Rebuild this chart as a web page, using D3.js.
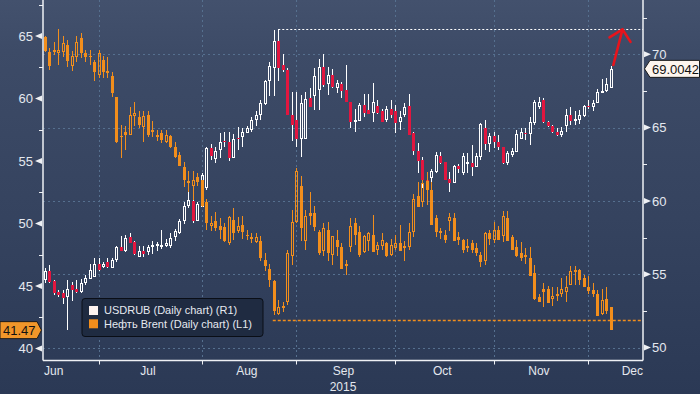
<!DOCTYPE html>
<html>
<head>
<meta charset="utf-8">
<title>USDRUB vs Brent</title>
<style>
  body { margin: 0; background: #2b3955; }
  svg { display: block; font-family: "Liberation Sans", Arial, sans-serif; }
  .tick-label { fill: #e4e8ef; font-size: 13px; }
  .grid line { stroke: #56708f; stroke-width: 1; stroke-dasharray: 2,3; }
  .axis-line { stroke: #eef0f4; stroke-width: 1.5; }
  .minor { stroke: #eef0f4; stroke-width: 1; }
</style>
</head>
<body>
<svg width="700" height="394"></svg>
<script src="https://cdn.jsdelivr.net/npm/d3@7"></script>
<script>
// daily candles, one per weekday starting Mon 15 Jun 2015; rows are [open, high, low, close]
var firstDay = new Date(2015, 5, 15);

var usdrub = [
  [54.6,55.4,54.4,55.2],[55.2,55.6,54.4,54.5],[54.55,54.6,53.6,53.7],[53.8,53.9,53.45,53.6],[53.7,53.9,53.0,53.4],
  [53.45,54.6,51.2,54.0],[54.25,54.5,53.2,53.95],[54.0,54.6,53.7,53.8],[53.8,54.65,53.7,54.4],[54.4,54.95,54.25,54.75],
  [54.7,55.7,54.65,55.3],[54.8,56.1,54.8,55.7],[55.7,56.1,55.2,55.3],[55.5,55.85,55.4,55.7],[55.85,56.1,55.4,55.5],
  [55.45,56.1,55.4,55.95],[55.95,56.95,55.85,56.85],[56.85,57.6,56.65,56.6],[56.6,57.65,56.5,57.5],[57.55,57.8,57.1,57.1],
  [57.2,57.3,56.3,56.35],[56.2,56.95,56.2,56.6],[56.6,56.9,56.2,56.4],[56.5,57.0,56.3,56.85],[56.95,57.3,56.4,57.0],
  [56.95,57.2,56.6,57.05],[56.85,58.0,56.7,57.0],[56.9,57.4,56.85,57.1],[56.95,57.8,56.8,57.5],[57.55,58.1,57.3,57.95],
  [57.8,58.8,57.75,58.65],[58.65,59.95,58.45,59.65],[59.65,60.6,59.5,60.05],[60.0,60.3,58.5,58.6],[58.6,59.9,58.6,59.8],
  [59.6,61.9,59.6,61.75],[60.85,63.7,60.75,63.6],[63.6,63.9,62.8,63.05],[62.85,63.7,62.6,63.4],[63.5,64.6,62.9,64.05],
  [64.1,64.7,63.7,64.0],[64.0,64.7,62.7,62.9],[62.95,64.55,62.95,64.25],[64.3,65.05,63.5,64.2],[64.35,65.0,63.65,64.7],
  [64.65,65.1,64.6,64.95],[64.85,65.7,64.7,65.5],[65.5,66.15,65.1,65.85],[65.85,66.85,65.5,66.65],[66.6,68.25,66.55,68.15],
  [68.15,69.5,67.15,69.2],[69.05,71.65,67.15,70.9],[70.9,71.7,68.2,69.05],[69.25,70.05,68.8,68.9],[68.9,69.05,65.85,65.85],
  [65.85,67.45,64.1,65.2],[65.5,67.45,63.7,64.2],[64.25,67.2,63.0,66.7],[64.25,67.45,64.25,66.95],[67.0,67.7,66.4,66.4],
  [67.15,69.05,66.2,68.5],[67.55,69.7,66.2,69.15],[69.1,70.05,67.8,67.9],[68.0,69.15,67.2,68.6],[68.6,69.0,67.7,67.8],
  [67.7,68.25,67.35,68.05],[67.95,68.1,67.0,67.5],[67.55,69.3,66.75,66.75],[66.75,66.75,64.95,65.4],[65.4,66.25,64.7,65.5],
  [65.45,66.65,65.45,66.55],[66.55,67.3,65.75,66.0],[66.2,67.3,65.95,65.95],[66.0,68.05,65.4,66.75],[66.45,66.85,65.95,66.0],
  [66.1,66.3,65.4,65.4],[65.5,66.45,65.4,66.3],[66.25,66.9,65.65,65.85],[66.15,66.55,64.65,65.3],[65.4,66.1,64.85,65.75],
  [65.85,66.65,65.75,66.4],[66.45,67.3,64.5,64.5],[64.6,64.7,63.1,63.4],[63.4,63.95,61.9,62.75],[62.8,63.0,60.85,61.4],
  [61.4,61.9,60.5,61.0],[61.55,62.2,61.3,62.05],[62.0,63.35,61.9,63.1],[63.05,63.35,62.55,62.6],[62.65,62.65,61.4,61.4],
  [61.5,61.95,60.6,61.25],[61.25,62.45,61.2,62.4],[62.4,62.55,61.9,62.15],[61.9,63.25,61.75,63.05],[62.55,63.3,61.9,62.65],
  [62.6,63.8,61.7,62.3],[62.3,63.25,62.3,63.05],[63.0,65.3,62.8,65.25],[64.95,65.5,63.45,63.9],[63.9,64.65,63.35,64.45],
  [64.45,64.7,63.6,64.05],[64.05,64.5,63.5,63.65],[63.7,63.7,62.55,62.6],[62.6,63.4,62.45,63.25],[63.15,63.6,63.0,63.4],
  [63.35,64.85,63.35,64.55],[64.25,64.95,64.2,64.7],[64.6,64.95,64.15,64.55],[64.55,65.75,63.8,65.4],[65.3,66.9,65.2,66.75],
  [66.4,67.1,66.3,66.75],[66.9,67.0,65.3,65.35],[65.35,65.45,65.05,65.1],[65.1,65.15,64.6,64.7],[64.7,64.95,64.4,64.5],
  [64.5,65.05,64.35,64.75],[65.1,66.3,64.7,65.85],[65.85,66.4,65.2,65.45],[65.5,66.1,65.2,65.6],[65.55,66.2,65.25,65.85],
  [65.8,66.55,65.75,66.5],[66.5,66.9,66.3,66.45],[66.4,66.9,66.1,66.65],[66.65,67.6,66.65,67.45],[67.4,68.3,67.4,67.5],
  [67.5,68.35,67.45,68.0],[67.7,69.2,67.7,69.0042]
];

var brent = [
  [64.9,65.0,63.7,63.8],[63.7,64.0,62.3,62.6],[63.7,64.5,63.5,63.9],[63.6,65.6,62.7,63.9],[63.7,65.0,63.3,64.4],
  [64.3,64.7,62.5,63.0],[62.6,63.8,62.2,63.4],[63.3,65.0,62.9,64.5],[64.8,65.2,63.2,63.6],[63.6,63.9,62.9,63.3],
  [63.4,63.9,62.7,63.3],[62.9,63.1,61.4,62.1],[61.9,63.9,61.6,63.6],[63.1,63.4,61.6,62.1],[62.2,63.3,61.6,62.0],
  [61.8,62.1,60.1,60.4],[60.1,60.1,56.4,56.5],[57.0,57.9,55.2,56.9],[57.3,57.8,55.9,57.1],[57.1,59.3,57.1,58.7],
  [58.6,59.7,57.8,58.8],[58.5,59.0,57.6,57.9],[57.7,59.0,56.5,58.6],[58.7,59.0,56.9,57.1],[57.3,58.2,56.9,57.5],
  [56.9,57.5,56.6,57.1],[57.2,57.5,56.4,56.7],[56.5,57.5,56.4,57.1],[57.0,57.1,56.0,56.1],[56.1,56.5,55.2,55.3],
  [55.5,55.7,54.6,54.6],[54.5,54.9,52.9,53.5],[53.2,54.2,52.5,53.4],[53.0,54.2,51.9,53.5],[53.7,54.0,53.0,53.3],
  [53.5,53.5,51.3,51.4],[51.7,52.0,49.5,50.0],[49.8,50.6,49.4,50.0],[50.2,50.9,49.4,49.6],[49.8,50.4,48.8,49.5],
  [49.7,50.0,48.5,48.6],[48.4,50.6,48.3,50.5],[50.3,51.2,48.7,49.2],[49.4,50.5,49.2,49.8],[49.9,50.6,48.8,49.3],
  [49.1,49.5,48.7,49.0],[48.9,49.2,48.4,48.8],[48.5,49.2,48.4,48.9],[48.6,49.0,47.0,47.2],[47.1,47.6,46.2,46.6],
  [46.4,46.8,44.9,45.5],[45.4,45.5,42.7,43.0],[42.8,43.9,42.7,43.3],[43.4,43.7,42.9,43.2],[43.7,47.9,43.5,47.6],
  [47.4,51.1,46.7,50.1],[50.1,54.4,50.0,54.2],[53.0,53.8,48.6,49.6],[48.6,51.1,47.9,50.6],[50.8,52.5,49.9,50.6],
  [50.8,51.4,49.4,49.7],[49.3,49.5,47.5,47.6],[47.8,50.0,47.4,49.6],[49.5,50.1,47.0,47.6],[47.5,49.0,46.7,49.0],
  [48.7,49.5,47.4,48.1],[48.1,48.4,46.4,46.4],[46.8,47.1,45.9,46.6],[48.1,50.4,47.7,49.8],[50.0,50.4,48.3,49.1],
  [49.3,49.8,47.3,47.5],[47.7,49.1,47.6,49.0],[48.6,49.3,47.8,49.2],[49.1,50.7,47.7,47.7],[47.9,48.5,47.5,48.3],
  [48.2,49.2,47.9,48.7],[48.4,48.5,47.3,47.4],[47.5,48.8,47.4,48.3],[48.0,49.1,47.9,48.4],[48.4,49.9,47.8,47.8],
  [48.0,48.6,47.0,48.2],[48.1,50.0,47.9,49.3],[49.3,52.4,48.9,52.0],[52.2,53.3,51.3,51.3],[51.7,53.5,51.3,53.2],
  [53.4,54.1,51.5,52.7],[52.7,53.3,49.9,49.9],[50.4,50.7,48.9,49.3],[49.4,49.6,48.8,49.2],[49.1,49.5,48.4,48.7],
  [50.2,50.8,49.4,50.5],[50.4,50.8,48.6,48.6],[48.9,49.3,48.3,48.7],[48.7,48.8,47.6,47.9],[48.2,48.8,47.7,48.0],
  [48.4,48.7,47.6,47.9],[48.0,48.4,47.4,47.6],[47.5,47.7,46.5,46.9],[47.0,49.3,46.7,49.2],[49.2,49.5,48.3,48.8],
  [48.7,50.1,48.4,49.5],[49.5,49.8,48.7,48.7],[49.0,51.0,48.5,50.6],[50.4,51.0,48.6,48.6],[48.9,49.1,47.9,47.9],
  [48.1,48.7,47.3,47.4],[47.6,48.5,47.0,47.2],[47.5,48.0,46.8,47.3],[47.2,48.1,45.8,45.8],[46.0,46.7,43.9,44.0],
  [44.1,44.4,43.7,43.7],[44.8,45.2,43.3,44.5],[44.8,45.0,43.6,43.6],[44.0,44.9,43.4,44.2],[44.4,44.9,43.8,44.2],
  [44.4,45.6,44.1,44.8],[44.5,45.8,43.7,44.9],[45.1,46.6,45.1,46.2],[46.1,46.6,45.1,46.3],[46.3,46.4,45.1,45.5],
  [45.6,45.9,44.9,44.9],[44.9,45.8,44.4,44.6],[44.7,45.2,44.1,44.4],[44.4,44.7,42.6,42.6],[42.8,44.8,42.7,43.9],
  [44.0,44.9,42.8,43.0],[43.3,43.3,41.47,41.47]
];

var leftTicks = [40, 45, 50, 55, 60, 65];
var rightTicks = [50, 55, 60, 65, 70];
var monthNames = ["Jun", "Jul", "Aug", "Sep", "Oct", "Nov", "Dec"];
var yearLabel = "2015";
var legendNames = ["USDRUB (Daily chart) (R1)", "Нефть Brent (Daily chart) (L1)"];
var lastLabels = ["69.0042", "41.47"];
// dashed reference levels: USDRUB August high, Brent August low (weekday index from 1 Jun)
var refRub = {day: 62, value: 71.7};
var refBrent = {day: 61, value: 42.25};

(function() {
  var svg = d3.select("svg"),
      W = 700, H = 394,
      pLeft = 43, pRight = 643, pTop = 0, pBottom = 360.5;

  var colUp = "#ffffff", colDown = "#e2163f", colOil = "#f28e1c";

  // background gradient
  var defs = svg.append("defs");
  var grad = defs.append("linearGradient").attr("id", "bg").attr("x1", 0).attr("y1", 0).attr("x2", 0).attr("y2", 1);
  grad.append("stop").attr("offset", "0").attr("stop-color", "#43516d");
  grad.append("stop").attr("offset", "0.13").attr("stop-color", "#3d4b67");
  grad.append("stop").attr("offset", "0.55").attr("stop-color", "#35435f");
  grad.append("stop").attr("offset", "1").attr("stop-color", "#2b3955");
  svg.append("rect").attr("width", W).attr("height", H).attr("fill", "url(#bg)");

  defs.append("clipPath").attr("id", "plot")
    .append("rect").attr("x", pLeft).attr("y", pTop).attr("width", pRight - pLeft).attr("height", pBottom - pTop);

  // weekday axis: index counts weekdays from Mon 1 Jun 2015
  var origin = new Date(2015, 5, 1);
  function weekdayIndex(d) {
    var n = 0, t = new Date(origin);
    while (t < d) {
      var w = t.getDay();
      if (w > 0 && w < 6) n++;
      t.setDate(t.getDate() + 1);
    }
    return n;
  }
  var days = d3.timeDay.range(firstDay, new Date(2016, 0, 1))
    .filter(function(d) { var w = d.getDay(); return w > 0 && w < 6; })
    .slice(0, usdrub.length);
  var dayIdx = days.map(weekdayIndex);

  var x = d3.scaleLinear().domain([9.65, 143.16]).range([pLeft, pRight]);
  var yL = d3.scaleLinear().domain([39.04, 67.88]).range([pBottom, pTop]);
  var yR = d3.scaleLinear().domain([49.12, 73.7]).range([pBottom, pTop]);

  var monthStarts = d3.range(0, 8).map(function(m) { return weekdayIndex(new Date(2015, 5 + m, 1)); });
  var px = function(v) { return Math.round(v) + 0.5; };

  // grid
  var grid = svg.append("g").attr("class", "grid");
  grid.selectAll("line.v").data(monthStarts.slice(1, 7)).enter().append("line")
    .attr("x1", function(d) { return px(x(d)); })
    .attr("x2", function(d) { return px(x(d)); })
    .attr("y1", pTop).attr("y2", pBottom);
  grid.selectAll("line.h").data(rightTicks).enter().append("line")
    .attr("x1", pLeft).attr("x2", pRight)
    .attr("y1", function(d) { return px(yR(d)); })
    .attr("y2", function(d) { return px(yR(d)); });

  // candles
  function drawCandles(g, data, y, upStroke, downFill, wickCol) {
    g.selectAll("g").data(data).enter().append("g").each(function(d, k) {
      var s = d3.select(this);
      var cx = Math.round(x(dayIdx[k]));
      var o = d[0], h = d[1], l = d[2], c = d[3];
      var t = Math.round(y(Math.max(o, c))), b = Math.round(y(Math.min(o, c)));
      var yh = Math.round(y(h)), yl = Math.round(y(l));
      if (c >= o) {
        if (b - t < 2) b = t + 2;
        if (yh < t) s.append("line").attr("x1", cx + 0.5).attr("x2", cx + 0.5).attr("y1", yh).attr("y2", t).attr("stroke", wickCol);
        if (yl > b) s.append("line").attr("x1", cx + 0.5).attr("x2", cx + 0.5).attr("y1", b).attr("y2", yl).attr("stroke", wickCol);
        s.append("rect").attr("x", cx - 0.5).attr("y", t + 0.5).attr("width", 2).attr("height", b - t - 1)
          .attr("fill", "none").attr("stroke", upStroke).attr("stroke-width", 1);
      } else {
        if (b - t < 1) b = t + 1;
        s.append("line").attr("x1", cx + 0.5).attr("x2", cx + 0.5).attr("y1", yh).attr("y2", Math.max(yl, b)).attr("stroke", wickCol);
        s.append("rect").attr("x", cx - 1).attr("y", t).attr("width", 3).attr("height", b - t).attr("fill", downFill);
      }
    });
  }

  var plot = svg.append("g").attr("clip-path", "url(#plot)");
  drawCandles(plot.append("g"), usdrub, yR, colUp, colDown, colUp);
  drawCandles(plot.append("g"), brent, yL, colOil, colOil, colOil);

  // reference dashed lines
  svg.append("line")
    .attr("x1", x(refRub.day)).attr("x2", pRight)
    .attr("y1", px(yR(refRub.value))).attr("y2", px(yR(refRub.value)))
    .attr("stroke", "#ffffff").attr("stroke-width", 1.2).attr("stroke-dasharray", "2,2");
  svg.append("line")
    .attr("x1", x(refBrent.day) - 1).attr("x2", pRight)
    .attr("y1", px(yL(refBrent.value))).attr("y2", px(yL(refBrent.value)))
    .attr("stroke", colOil).attr("stroke-width", 1.5).attr("stroke-dasharray", "3,2");

  // red arrow from the last USDRUB candle up to the August high
  var last = usdrub.length - 1;
  var ax0 = x(dayIdx[last]) + 2.5, ay0 = yR(usdrub[last][1]) - 1;
  var ax1 = x(dayIdx[last] + 2.6), ay1 = yR(refRub.value);
  svg.append("path")
    .attr("d", "M" + ax0 + "," + ay0 + "L" + ax1 + "," + ay1 +
               "M" + (ax1 - 13) + "," + (ay1 + 8) + "L" + ax1 + "," + ay1 + "L" + (ax1 + 8) + "," + (ay1 + 12.5))
    .attr("fill", "none").attr("stroke", "#e8141c").attr("stroke-width", 2.6)
    .attr("stroke-linecap", "round").attr("stroke-linejoin", "round");

  // axes
  svg.append("line").attr("class", "axis-line").attr("x1", pLeft).attr("x2", pLeft).attr("y1", pTop).attr("y2", pBottom);
  svg.append("line").attr("class", "axis-line").attr("x1", pRight).attr("x2", pRight).attr("y1", pTop).attr("y2", pBottom);
  svg.append("line").attr("class", "axis-line").attr("x1", pLeft).attr("x2", pRight).attr("y1", pBottom).attr("y2", pBottom);

  // left axis
  var minorL = d3.range(42.5, 68, 5);
  svg.selectAll("line.ml").data(minorL).enter().append("line").attr("class", "minor")
    .attr("x1", pLeft - 4).attr("x2", pLeft)
    .attr("y1", function(d) { return px(yL(d)); })
    .attr("y2", function(d) { return px(yL(d)); });
  svg.selectAll("path.tl").data(leftTicks).enter().append("path")
    .attr("d", function(d) { var y = yL(d); return "M" + (pLeft - 8) + "," + y + "L" + (pLeft - 1) + "," + (y - 3) + "L" + (pLeft - 1) + "," + (y + 3) + "Z"; })
    .attr("fill", "#eef0f4");
  svg.selectAll("text.tl").data(leftTicks).enter().append("text").attr("class", "tick-label")
    .attr("x", 33).attr("y", function(d) { return yL(d); }).attr("dy", "0.36em")
    .attr("text-anchor", "end").text(function(d) { return d; });

  // right axis
  var minorR = d3.range(52.5, 74, 5);
  svg.selectAll("line.mr").data(minorR).enter().append("line").attr("class", "minor")
    .attr("x1", pRight).attr("x2", pRight + 4)
    .attr("y1", function(d) { return px(yR(d)); })
    .attr("y2", function(d) { return px(yR(d)); });
  svg.selectAll("path.tr").data(rightTicks).enter().append("path")
    .attr("d", function(d) { var y = yR(d); return "M" + (pRight + 8) + "," + y + "L" + (pRight + 1) + "," + (y - 3) + "L" + (pRight + 1) + "," + (y + 3) + "Z"; })
    .attr("fill", "#eef0f4");
  svg.selectAll("text.tr").data(rightTicks).enter().append("text").attr("class", "tick-label")
    .attr("x", pRight + 9).attr("y", function(d) { return yR(d); }).attr("dy", "0.36em")
    .text(function(d) { return d; });

  // x axis
  svg.selectAll("line.xt").data(monthStarts.slice(1, 7)).enter().append("line").attr("class", "minor")
    .attr("x1", function(d) { return px(x(d)); })
    .attr("x2", function(d) { return px(x(d)); })
    .attr("y1", pBottom).attr("y2", pBottom + 4);
  var mLabels = svg.selectAll("text.m").data(monthNames).enter().append("text").attr("class", "tick-label")
    .style("font-size", "12px").attr("y", 374.5).attr("text-anchor", "middle")
    .text(function(d) { return d; });
  mLabels.each(function(d, k) {
    var cx = x((monthStarts[k] + monthStarts[k + 1]) / 2 - 0.5);
    var w = this.getComputedTextLength();
    cx = Math.max(pLeft + 1 + w / 2, Math.min(pRight - w / 2, cx));
    d3.select(this).attr("x", cx);
  });
  svg.append("text").attr("class", "tick-label").style("font-size", "12px")
    .attr("x", (pLeft + pRight) / 2).attr("y", 391).attr("text-anchor", "middle").text(yearLabel);

  // last value tags
  var yRub = yR(usdrub[last][3]);
  svg.append("path")
    .attr("d", "M" + (pRight + 1.5) + "," + yRub + "L" + (pRight + 7) + "," + (yRub - 8.5) + "H699.5V" + (yRub + 8.5) + "H" + (pRight + 7) + "Z")
    .attr("fill", "#fdf5ee").attr("stroke", "#1b1b1b").attr("stroke-width", 1);
  svg.append("text").attr("x", pRight + 9).attr("y", yRub).attr("dy", "0.36em")
    .attr("fill", "#111").style("font-size", "13px").text(lastLabels[0]);

  var yOil = yL(brent[last][3]);
  svg.append("path")
    .attr("d", "M0," + (yOil - 8.5) + "H37L" + (pLeft - 1.5) + "," + yOil + "L37," + (yOil + 8.5) + "H0Z")
    .attr("fill", "#f0962a").attr("stroke", "#1b1b1b").attr("stroke-width", 1);
  svg.append("text").attr("x", 3).attr("y", yOil).attr("dy", "0.36em")
    .attr("fill", "#111").style("font-size", "13px").text(lastLabels[1]);

  // legend
  var lg = svg.append("g").attr("transform", "translate(82,298.5)");
  lg.append("rect").attr("width", 181).attr("height", 38).attr("rx", 3)
    .attr("fill", "#1f2b41").attr("stroke", "#0a0e16").attr("stroke-width", 1);
  var items = lg.selectAll("g").data(legendNames).enter().append("g")
    .attr("transform", function(d, k) { return "translate(7," + (7.5 + k * 13.3) + ")"; });
  items.append("rect").attr("width", 9).attr("height", 9)
    .attr("fill", function(d, k) { return k === 0 ? "#fdf3ef" : colOil; });
  items.append("text").attr("x", 15).attr("y", 4.5).attr("dy", "0.36em")
    .attr("fill", "#e6e9f0").style("font-size", "11px").text(function(d) { return d; });
})();
</script>
</body>
</html>
